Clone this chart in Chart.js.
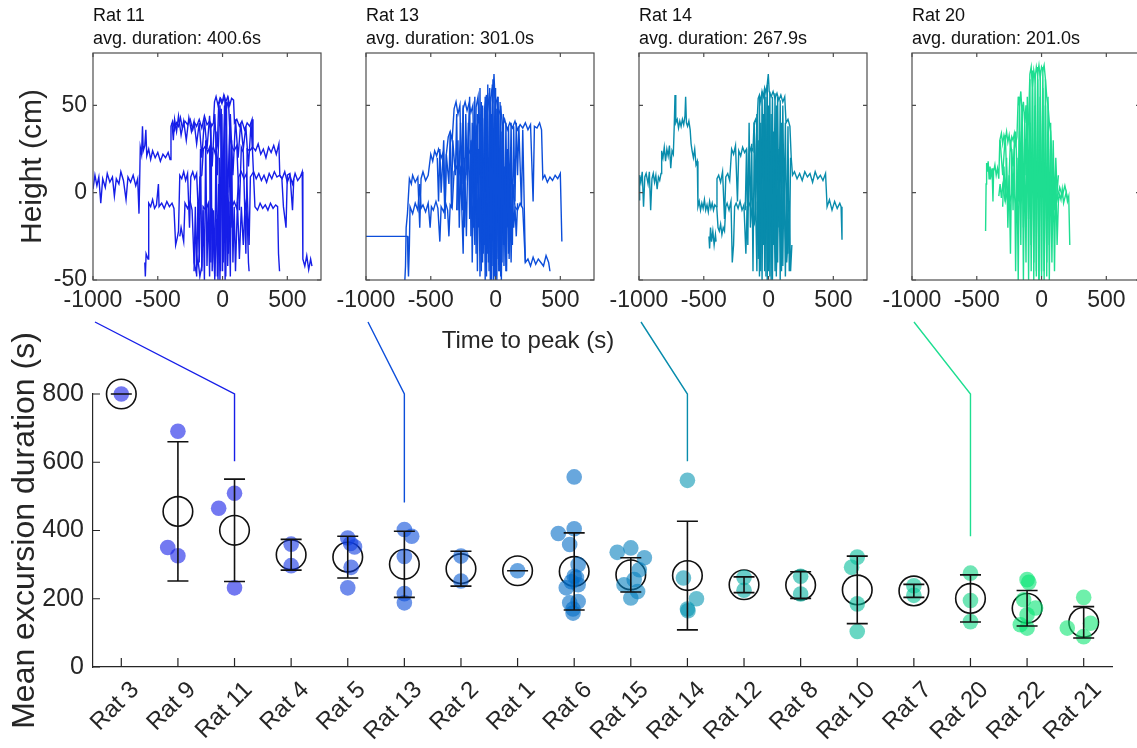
<!DOCTYPE html>
<html>
<head>
<meta charset="utf-8">
<script src="https://cdn.jsdelivr.net/npm/chart.js@4.4.1/dist/chart.umd.min.js"></script>
<style>
  body { margin: 0; background: #fff; }
  #fig { position: relative; width: 1137px; height: 748px; overflow: hidden; background: #fff; }
  #fig canvas { position: absolute; }
  #xlab { position: absolute; left: 408px; width: 240px; top: 326px; text-align: center;
          font: 24px "Liberation Sans", Arial, sans-serif; color: #262626; line-height: 28px; }
</style>
</head>
<body>
<div id="fig">
  <canvas id="p0" width="327" height="320" style="left:0px;top:0px"></canvas>
  <canvas id="p1" width="274" height="320" style="left:326px;top:0px"></canvas>
  <canvas id="p2" width="274" height="320" style="left:599px;top:0px"></canvas>
  <canvas id="p3" width="274" height="320" style="left:872px;top:0px"></canvas>
  <canvas id="main" width="1137" height="436" style="left:0px;top:312px"></canvas>
  <div id="xlab">Time to peak (s)</div>
</div>
<script>
Chart.defaults.font.family = '"Liberation Sans", Arial, sans-serif';
Chart.defaults.color = '#262626';
Chart.defaults.animation = false;

// bottom chart: one column per rat
const rats = ['Rat 3', 'Rat 9', 'Rat 11', 'Rat 4', 'Rat 5', 'Rat 13', 'Rat 2', 'Rat 1', 'Rat 6',
              'Rat 15', 'Rat 14', 'Rat 12', 'Rat 8', 'Rat 10', 'Rat 7', 'Rat 20', 'Rat 22', 'Rat 21'];
const meanDur = [800, 456, 400.6, 329, 322, 301.0, 288, 282, 280, 270, 267.9, 241, 240, 226, 223, 201.0, 172, 131];
const sdDur = [0, 204, 150, 45, 61, 97, 51, 0, 113, 50, 159, 23, 39, 99, 19, 69, 52, 46];
const yTicks = [0, 200, 400, 600, 800];

// single excursions (s) and their horizontal jitter (in columns)
const ratPts = [
  [800],
  [691, 350, 326],
  [465, 509, 232],
  [360, 297],
  [378, 362, 352, 292, 232],
  [403, 383, 324, 215, 188],
  [325, 252],
  [282],
  [557, 405, 391, 359, 300, 266, 262, 250, 241, 232, 192, 188, 170, 158],
  [349, 336, 320, 285, 256, 241, 221, 202],
  [547, 261, 200, 170, 165],
  [262, 225],
  [266, 214],
  [322, 292, 185, 104],
  [238, 210],
  [275, 195, 133],
  [256, 248, 197, 173, 153, 124, 114],
  [204, 128, 114, 89]
];
const ratJit = [
  [0],
  [0, -0.18, 0],
  [-0.28, 0, 0],
  [0, 0],
  [0, 0.05, 0.12, 0.06, 0],
  [0, 0.13, 0, 0, 0],
  [0, 0],
  [0],
  [0, 0, -0.28, -0.08, 0.07, 0, 0.04, -0.05, 0.07, -0.14, 0.07, -0.08, -0.02, -0.02],
  [0, -0.24, 0.24, 0.15, 0.06, -0.12, 0.12, 0],
  [0, -0.07, 0.16, 0, 0.01],
  [0, 0],
  [0, 0],
  [0, -0.1, 0, 0],
  [0, 0],
  [0, 0, 0],
  [0, 0.03, -0.06, 0.15, 0, -0.12, 0],
  [0, 0.12, -0.29, 0]
];
const ratColors = [
  [22, 30, 232], [22, 32, 232], [22, 30, 232], [18, 52, 228], [15, 62, 224], [12, 78, 218],
  [8, 92, 210], [5, 105, 205], [3, 108, 198], [6, 128, 190], [8, 150, 178], [5, 172, 165],
  [5, 178, 160], [5, 188, 155], [8, 196, 150], [15, 212, 132], [5, 228, 115], [15, 230, 115]
];

// top panels
const panelRats = ['Rat 11', 'Rat 13', 'Rat 14', 'Rat 20'];
const panelAvg = [400.6, 301.0, 267.9, 201.0];
const panelColors = ['rgb(22,30,232)', 'rgb(12,78,218)', 'rgb(8,140,172)', 'rgb(30,222,145)'];
const panelXTicks = [-1000, -500, 0, 500];
const panelYTicks = [-50, 0, 50];
const linkEnd = [603, 482, 603, 383];

// height traces [time to peak (s), height (cm)]
const tr11 = [
  [[-1000,2],[-985,10],[-970,4],[-955,9],[-940,-6],[-925,8],[-905,3],[-890,11],[-870,6],[-850,9],[-835,-2],[-820,8],[-800,5],[-785,12],[-765,7],[-745,-4],[-730,9],[-710,6],[-690,10],[-670,4],[-655,8],[-645,-12],[-640,6],[-635,26],[-625,22],[-618,38],[-612,24],[-600,27],[-592,36],[-585,21],[-570,25],[-555,19],[-540,24],[-520,20],[-500,23],[-480,18],[-460,22],[-440,20],[-420,23],[-405,19],[-398,38],[-385,41],[-370,36],[-355,40],[-340,38],[-325,43],[-310,37],[-290,41],[-270,39],[-250,42],[-230,36],[-215,40],[-200,38],[-180,42],[-160,37],[-140,44],[-120,39],[-100,41],[-85,38],[-70,40],[-62,52],[-50,55],[-35,50],[-20,54],[-5,51],[10,56],[25,52],[40,55],[55,50],[70,54],[85,53],[92,40],[110,42],[130,38],[150,41],[170,36],[190,40],[210,38],[228,42],[235,26],[255,24],[275,28],[295,22],[315,25],[335,20],[355,26],[375,23],[395,27],[415,22],[435,28],[442,10],[460,8],[480,12],[500,6],[520,10],[540,5],[560,11],[580,7],[600,9],[615,12],[620,-38],[635,-42],[650,-36],[665,-44],[680,-38],[690,-42]],
  [[-600,-40],[-596,-48],[-590,-35],[-575,-38],[-570,-6],[-555,-8],[-540,-4],[-525,-9],[-510,-7],[-495,5],[-490,-8],[-470,-6],[-450,-9],[-430,-5],[-410,-8],[-390,-6],[-375,-9],[-362,-30],[-350,-26],[-340,-22],[-330,10],[-315,8],[-300,12],[-285,7],[-270,11],[-255,-20],[-245,9],[-230,12],[-215,8],[-200,11],[-185,-15],[-175,9],[-160,10],[-148,25],[-130,27],[-115,23],[-100,26],[-90,-40],[-85,24],[-70,26],[-55,22],[-40,27],[-30,50],[-15,54],[0,52],[15,55],[30,48],[45,53],[60,30],[75,26],[90,24],[110,27],[130,-10],[145,26],[160,23],[180,-35],[190,25],[210,24],[230,26],[250,-8],[270,-10],[290,-6],[310,-9],[330,-7],[350,-10],[370,-6],[390,-9],[410,-7],[425,-8],[432,-35],[440,-45]],
  [[-330,-25],[-320,-20],[-300,-28],[-290,-6],[-270,-9],[-250,-5],[-235,-10],[-220,-40],[-205,-45],[-190,-38],[-175,-48],[-160,-42],[-150,-8],[-130,-10],[-110,-6],[-95,-30],[-80,-9],[-60,-48],[-45,-15],[-35,-50],[-25,20],[-15,-45],[-5,45],[5,-40],[15,50],[25,-48],[35,10],[45,-35],[55,40],[65,-20],[75,-8],[90,-5],[110,-9],[125,9],[145,12],[165,8],[185,11],[205,-30],[215,9],[240,12],[260,8],[280,11],[300,7],[320,10],[340,6],[360,11],[380,8],[400,12],[420,9],[440,10],[458,8],[470,-8],[490,-20],[500,10],[520,11],[540,-10],[550,8]],
  [[-220,-45],[-210,-8],[-200,-48],[-190,-5],[-180,-40],[-170,25],[-160,-45],[-150,-10],[-140,-50],[-130,30],[-120,-42],[-110,-8],[-100,-48],[-90,40],[-80,-45],[-70,-10],[-60,-50],[-50,35],[-40,-48],[-30,5],[-20,-50],[-10,48],[0,-45],[10,20],[20,-50],[30,52],[40,-42],[50,-5],[60,-48],[70,30],[80,-40],[90,-8],[100,-45],[115,-5],[130,-38],[145,-8],[160,-30],[175,-6],[190,-12],[200,-40],[205,-45]],
  [[-390,40],[-380,30],[-370,42],[-355,35],[-340,44],[-320,33],[-300,41],[-280,30],[-260,43],[-240,35],[-220,41],[-200,28],[-180,40],[-160,20],[-140,42],[-120,25],[-100,44],[-80,15],[-60,45],[-40,10],[-20,50],[0,5],[20,53],[40,0],[60,45],[80,10],[100,42],[120,20],[140,40],[160,25],[180,38],[200,15],[220,40],[230,25]]
];
const tr13 = [
  [[-1000,-25],[-680,-25],[-676,-40],[-672,-48],[-665,-30],[-660,-8],[-640,-12],[-620,-6],[-600,-10],[-585,5],[-575,-9],[-560,-7],[-540,-11],[-520,-6],[-505,-20],[-495,-8],[-480,-10],[-460,-5],[-445,-9],[-430,-28],[-420,-8],[-400,-11],[-385,-6],[-370,-10],[-360,-25],[-350,-7],[-335,-9],[-320,12],[-300,15],[-285,10],[-270,14],[-255,-10],[-245,13],[-230,9],[-215,25],[-200,23],[-185,28],[-170,-20],[-160,24],[-145,38],[-130,42],[-115,36],[-100,40],[-85,-30],[-75,39],[-60,48],[-50,55],[-40,52],[-30,58],[-20,54],[-12,68],[-5,55],[10,52],[25,45],[40,48],[55,38],[70,42],[90,36],[110,40],[130,37],[150,41],[170,36],[190,39],[210,37],[230,40],[250,36],[270,39],[290,-5],[300,38],[320,37],[340,40],[355,36],[365,8],[380,10],[400,6],[420,9],[440,7],[460,10],[480,8],[500,11],[512,-28]],
  [[-700,-50],[-695,-42],[-690,-20],[-680,-12],[-665,8],[-650,5],[-640,10],[-620,6],[-600,9],[-585,-20],[-575,8],[-560,12],[-540,7],[-520,10],[-500,22],[-485,18],[-470,24],[-455,21],[-440,25],[-420,20],[-405,23],[-390,-15],[-380,22],[-365,32],[-350,35],[-335,30],[-320,48],[-305,52],[-290,45],[-275,50],[-260,-5],[-250,48],[-235,52],[-220,47],[-205,51],[-190,46],[-175,50],[-160,-10],[-150,49],[-135,55],[-120,20],[-110,52],[-95,-35],[-85,48],[-70,56],[-55,-40],[-45,60],[-35,-45],[-25,62],[-15,-50],[-5,58],[5,-48],[15,55],[25,-45],[35,52],[45,-50],[55,40],[65,-42],[75,10],[85,-45],[95,25],[105,-38],[115,8],[125,-30],[135,5],[150,-8],[170,-10],[190,-6],[210,-9],[230,-40],[250,-38],[270,-42],[290,-37],[310,-41],[330,-38],[350,-40],[370,-42],[390,-36],[410,-40],[420,-45]],
  [[-300,-10],[-290,30],[-280,-20],[-270,15],[-250,-35],[-240,20],[-225,-25],[-210,40],[-200,-15],[-190,30],[-180,-40],[-170,10],[-160,-30],[-150,35],[-140,-45],[-130,25],[-120,-48],[-110,45],[-100,-40],[-90,20],[-80,-50],[-70,50],[-60,-35],[-50,15],[-40,-50],[-30,45],[-20,-42],[-10,30],[0,-50],[10,48],[20,-38],[30,20],[40,-48],[50,35],[60,-30],[70,15],[80,-45],[90,25],[100,-35],[110,5],[120,-40],[130,0],[140,-20],[150,-8],[160,-25],[170,-6]],
  [[-450,20],[-440,-5],[-430,25],[-420,0],[-400,30],[-390,-10],[-380,22],[-360,5],[-350,35],[-340,-8],[-330,30],[-310,10],[-300,45],[-290,-10],[-270,40],[-260,5],[-250,50],[-240,-20],[-230,45],[-220,10],[-200,55],[-190,-25],[-180,40],[-170,0],[-160,55],[-150,-35],[-140,45],[-130,-20],[-120,60],[-110,-45],[-100,50],[-90,-30],[-80,55],[-70,-48],[-60,62],[-50,-45],[-40,55],[-30,-50],[-20,65],[-10,-48],[0,60],[10,-50],[20,55],[30,-45],[40,50],[50,-40],[60,45],[70,-30],[80,40],[90,-20],[100,38],[110,-10],[120,40],[130,-30],[140,38],[150,-5],[160,40],[170,10],[180,38],[200,-8],[210,36],[230,-40]]
];
const tr14 = [
  [[-1000,-4],[-995,10],[-985,6],[-975,12],[-965,-8],[-955,9],[-945,11],[-930,5],[-920,12],[-910,-10],[-900,8],[-890,11],[-880,6],[-870,10],[-860,2],[-850,9],[-840,7],[-830,11],[-825,24],[-815,20],[-805,26],[-795,18],[-785,25],[-775,21],[-765,27],[-755,14],[-745,24],[-735,22],[-728,38],[-722,56],[-716,40],[-705,42],[-695,37],[-685,41],[-675,38],[-665,42],[-655,39],[-645,44],[-640,55],[-634,40],[-625,38],[-615,41],[-605,36],[-598,28],[-590,24],[-580,20],[-570,25],[-560,16],[-550,18],[-545,-8],[-535,-5],[-525,-10],[-515,-6],[-505,-9],[-495,-4],[-485,-10],[-475,-7],[-465,-11],[-455,-5],[-445,-9],[-435,-6],[-425,-10],[-415,-7],[-405,-8],[-398,8],[-385,10],[-370,6],[-355,12],[-340,-15],[-330,9],[-315,11],[-300,7],[-285,25],[-270,22],[-255,27],[-240,-5],[-230,24],[-215,21],[-200,26],[-185,23],[-170,25],[-160,-10],[-150,22],[-135,26],[-120,24],[-112,40],[-100,42],[-90,38],[-80,54],[-70,56],[-60,52],[-50,58],[-40,55],[-30,60],[-20,57],[-10,62],[-2,68],[5,58],[20,55],[35,58],[50,54],[65,57],[80,53],[95,56],[110,52],[125,55],[135,40],[150,42],[165,38],[175,20],[185,10],[200,12],[220,8],[240,11],[260,7],[280,12],[300,9],[320,11],[340,6],[360,12],[380,8],[400,10],[420,7],[440,11],[452,-8],[470,-4],[490,-10],[510,-5],[530,-9],[550,-6],[560,-8],[567,-27]],
  [[-460,-25],[-455,-32],[-448,-20],[-440,-28],[-430,-22],[-420,-30],[-410,-24],[-405,-28]],
  [[-400,-8],[-390,-20],[-380,-22],[-370,-18],[-360,-24],[-350,-20],[-340,-22],[-330,-8],[-320,-6],[-305,-10],[-290,-5],[-280,-40],[-270,-30],[-262,-8],[-250,-6],[-235,-9],[-220,-5],[-205,-10],[-190,-7],[-175,-35],[-165,-8],[-150,-6],[-135,-9],[-120,-20],[-110,-18],[-100,-5],[-90,-45],[-80,30],[-70,-48],[-60,40],[-50,-50],[-40,45],[-30,-45],[-20,55],[-10,-50],[0,50],[10,-48],[20,45],[30,-50],[40,35],[50,-45],[60,50],[70,-40],[80,25],[90,-50],[100,40],[110,-42],[120,15],[130,-48],[140,5],[150,-35],[160,-8],[170,-45],[180,-30]],
  [[-180,-10],[-170,25],[-160,-30],[-150,40],[-140,-20],[-130,28],[-120,-45],[-110,35],[-100,-15],[-90,45],[-80,-38],[-60,10],[-40,-30],[-20,20],[0,-40],[20,10],[40,-20],[60,-45],[80,5],[100,-25],[120,-8],[140,-40],[160,-15]],
  [[-110,40],[-100,-10],[-90,42],[-80,-30],[-70,55],[-60,-45],[-50,58],[-40,-20],[-30,60],[-20,-48],[-10,62],[0,-45],[10,58],[20,-50],[30,55],[40,-30],[50,57],[60,-48],[70,55],[80,-20],[90,53],[100,-45],[110,50],[120,-10],[130,40],[140,-35],[150,38],[160,-45],[170,20]]
];
const tr20 = [
  [[-432,-22],[-428,5],[-424,17],[-418,12],[-412,18],[-405,8],[-398,15],[-390,10],[-382,14],[-375,-5],[-370,12],[-360,16],[-350,10],[-340,14],[-330,8],[-322,30],[-310,34],[-300,28],[-290,33],[-280,30],[-270,35],[-260,29],[-250,33],[-240,27],[-230,32],[-220,30],[-210,34],[-200,28],[-190,32],[-180,55],[-170,50],[-160,58],[-150,45],[-140,52],[-130,40],[-120,50],[-110,30],[-100,42],[-90,68],[-80,72],[-70,60],[-60,70],[-50,65],[-40,72],[-30,68],[-20,73],[-10,66],[0,72],[10,70],[20,73],[30,65],[40,55],[50,50],[60,40],[70,35],[80,20],[90,-4],[100,-2],[110,-6],[120,0],[130,-5],[140,-1],[150,-4],[160,2],[170,-6],[180,-3],[190,0],[200,-5],[210,-2],[218,-30]],
  [[-300,-8],[-290,15],[-280,-5],[-270,20],[-260,-20],[-250,10],[-240,-35],[-230,25],[-220,-10],[-210,30],[-200,-45],[-190,20],[-180,-50],[-170,35],[-160,-30],[-150,45],[-140,-50],[-130,30],[-120,-40],[-110,55],[-100,-50],[-90,40],[-80,-45],[-70,60],[-60,-50],[-50,50],[-40,-48],[-30,65],[-20,-50],[-10,55],[0,-45],[10,60],[20,-50],[30,50],[40,-48],[50,35],[60,-50],[70,25],[80,-40],[90,15],[100,-45],[110,10],[120,-30],[130,-5]],
  [[-330,-2],[-320,5],[-310,-3],[-300,4],[-280,-5],[-260,2],[-240,-4],[-220,3],[-200,-6],[-180,2],[-160,-5],[-140,4],[-120,-3],[-100,10],[-80,-2],[-60,5],[-40,-4],[-20,2],[0,-3],[20,4],[40,-2],[60,3],[80,-5],[100,2],[120,-4],[140,3],[160,-2],[180,4],[200,-3]],
  [[-320,30],[-300,10],[-280,33],[-260,-10],[-240,30],[-220,15],[-200,35],[-180,-5],[-170,55],[-160,0],[-150,50],[-140,-20],[-130,45],[-120,10],[-110,50],[-100,-15],[-90,65],[-80,-30],[-70,70],[-60,-40],[-50,68],[-40,-45],[-30,72],[-20,-50],[-10,70],[0,-48],[10,72],[20,-45],[30,65],[40,-40],[50,55],[60,-30],[70,40],[80,-20],[90,30],[100,-10],[110,20],[120,0],[130,10]]
];
const panelTraces = [tr11, tr13, tr14, tr20];

function rgba(c, a) { return 'rgba(' + c[0] + ',' + c[1] + ',' + c[2] + ',' + a + ')'; }

// box round each small panel, ticks pointing inwards
const panelFrame = {
  id: 'panelFrame',
  afterDraw(chart) {
    const {ctx, chartArea: a, scales: {x, y}} = chart;
    ctx.save();
    ctx.strokeStyle = '#4d4d4d';
    ctx.lineWidth = 1.2;
    ctx.strokeRect(a.left, a.top, a.right - a.left, a.bottom - a.top);
    ctx.beginPath();
    panelXTicks.forEach(v => {
      const px = x.getPixelForValue(v);
      ctx.moveTo(px, a.bottom); ctx.lineTo(px, a.bottom - 4);
      ctx.moveTo(px, a.top); ctx.lineTo(px, a.top + 4);
    });
    panelYTicks.forEach(v => {
      const py = y.getPixelForValue(v);
      ctx.moveTo(a.left, py); ctx.lineTo(a.left + 4, py);
      ctx.moveTo(a.right, py); ctx.lineTo(a.right - 4, py);
    });
    ctx.stroke();
    ctx.restore();
  }
};

function makePanel(k) {
  const first = k === 0;
  return new Chart(document.getElementById('p' + k), {
    type: 'scatter',
    data: {
      datasets: panelTraces[k].map(tr => ({
        data: tr.map(p => ({x: p[0], y: p[1]})),
        showLine: true,
        borderColor: panelColors[k],
        borderWidth: 1.4,
        pointRadius: 0,
        tension: 0
      }))
    },
    options: {
      responsive: false,
      events: [],
      layout: { padding: { left: first ? 0 : 40, right: 6, top: 0, bottom: 0 } },
      plugins: {
        legend: { display: false },
        tooltip: { enabled: false },
        title: {
          display: true,
          text: [panelRats[k], 'avg. duration: ' + panelAvg[k].toFixed(1) + 's'],
          align: 'start',
          fullSize: false,
          color: '#111',
          font: { size: 18, lineHeight: 1.25, weight: 'normal' },
          padding: { top: 5, bottom: 3 }
        }
      },
      scales: {
        x: {
          type: 'linear', min: -1000, max: 760,
          afterBuildTicks: s => { s.ticks = panelXTicks.map(v => ({value: v})); },
          afterFit: s => { s.height = 40; },
          grid: { display: false, drawTicks: false },
          border: { display: false },
          ticks: { callback: v => String(v), font: { size: 23 }, padding: 7, maxRotation: 0, autoSkip: false }
        },
        y: {
          display: first, min: -50, max: 80,
          afterBuildTicks: s => { s.ticks = panelYTicks.map(v => ({value: v})); },
          afterFit: s => { s.width = first ? 93 : 0; },
          grid: { display: false, drawTicks: false },
          border: { display: false },
          ticks: { callback: v => String(v), font: { size: 23 }, padding: 6 },
          title: { display: true, text: 'Height (cm)', font: { size: 30 }, padding: { top: 15, bottom: 0 } }
        }
      }
    },
    plugins: [panelFrame]
  });
}
const panels = panelRats.map((r, k) => makePanel(k));

// lines from each panel down to its rat
const connectors = {
  id: 'connectors',
  beforeDatasetsDraw(chart) {
    const {ctx, scales: {x, y}} = chart;
    const cv = chart.canvas;
    ctx.save();
    ctx.lineWidth = 1.4;
    panels.forEach((pc, k) => {
      const j = rats.indexOf(panelRats[k]);
      const x0 = pc.canvas.offsetLeft + pc.chartArea.left + 2 - cv.offsetLeft;
      const y0 = pc.canvas.offsetTop + pc.height + 2 - cv.offsetTop;
      const xj = x.getPixelForValue(j);
      ctx.strokeStyle = panelColors[k];
      ctx.beginPath();
      ctx.moveTo(x0, y0);
      ctx.lineTo(xj, y.getPixelForValue(y.max));
      ctx.lineTo(xj, y.getPixelForValue(linkEnd[k]));
      ctx.stroke();
    });
    ctx.restore();
  }
};

// mean +- sd bars
const errBars = {
  id: 'errBars',
  afterDatasetsDraw(chart) {
    const {ctx, scales: {x, y}} = chart;
    ctx.save();
    ctx.strokeStyle = '#111';
    ctx.lineWidth = 1.6;
    ctx.beginPath();
    meanDur.forEach((m, i) => {
      const px = x.getPixelForValue(i);
      const lo = y.getPixelForValue(m - sdDur[i]);
      const hi = y.getPixelForValue(m + sdDur[i]);
      ctx.moveTo(px, lo); ctx.lineTo(px, hi);
      ctx.moveTo(px - 10.5, lo); ctx.lineTo(px + 10.5, lo);
      ctx.moveTo(px - 10.5, hi); ctx.lineTo(px + 10.5, hi);
    });
    ctx.stroke();
    ctx.restore();
  }
};

// matlab style ticks inside the axes
const innerTicks = {
  id: 'innerTicks',
  afterDraw(chart) {
    const {ctx, chartArea: a, scales: {x, y}} = chart;
    ctx.save();
    ctx.strokeStyle = '#262626';
    ctx.lineWidth = 1.2;
    ctx.beginPath();
    rats.forEach((r, i) => {
      const px = x.getPixelForValue(i);
      ctx.moveTo(px, a.bottom); ctx.lineTo(px, a.bottom - 9);
    });
    yTicks.forEach(v => {
      const py = y.getPixelForValue(v);
      ctx.moveTo(a.left, py); ctx.lineTo(a.left + 7, py);
    });
    ctx.stroke();
    ctx.restore();
  }
};

const dotSets = rats.map((r, i) => ({
  label: r,
  data: ratPts[i].map((v, k) => ({x: i + ratJit[i][k], y: v})),
  pointRadius: 7.8,
  pointBorderWidth: 0,
  pointBackgroundColor: rgba(ratColors[i], 0.6),
  pointBorderColor: rgba(ratColors[i], 0),
  clip: false
}));
const meanSet = {
  label: 'mean',
  data: meanDur.map((m, i) => ({x: i, y: m})),
  pointRadius: 14.8,
  pointBorderWidth: 1.6,
  pointBorderColor: '#111',
  pointBackgroundColor: 'rgba(0,0,0,0)',
  clip: false
};

new Chart(document.getElementById('main'), {
  type: 'scatter',
  data: { datasets: dotSets.concat([meanSet]) },
  options: {
    responsive: false,
    events: [],
    layout: { padding: { top: 82, right: 25, left: 0, bottom: 0 } },
    plugins: { legend: { display: false }, tooltip: { enabled: false } },
    scales: {
      x: {
        type: 'linear', min: -0.5, max: 17.5,
        afterBuildTicks: s => { s.ticks = rats.map((r, i) => ({value: i})); },
        afterFit: s => { s.height = 81; },
        grid: { display: false, drawTicks: false },
        border: { display: true, color: '#262626', width: 1.2 },
        ticks: { callback: v => rats[v], autoSkip: false, minRotation: 45, maxRotation: 45,
                 font: { size: 24 }, padding: 9, labelOffset: 14 }
      },
      y: {
        min: 0, max: 800,
        afterBuildTicks: s => { s.ticks = yTicks.map(v => ({value: v})); },
        afterFit: s => { s.width = 93; },
        grid: { display: false, drawTicks: false },
        border: { display: true, color: '#262626', width: 1.2 },
        ticks: { font: { size: 25 }, padding: 9 },
        title: { display: true, text: 'Mean excursion duration (s)', font: { size: 32 }, padding: { top: 6, bottom: 0 } }
      }
    }
  },
  plugins: [connectors, errBars, innerTicks]
});
</script>
</body>
</html>
